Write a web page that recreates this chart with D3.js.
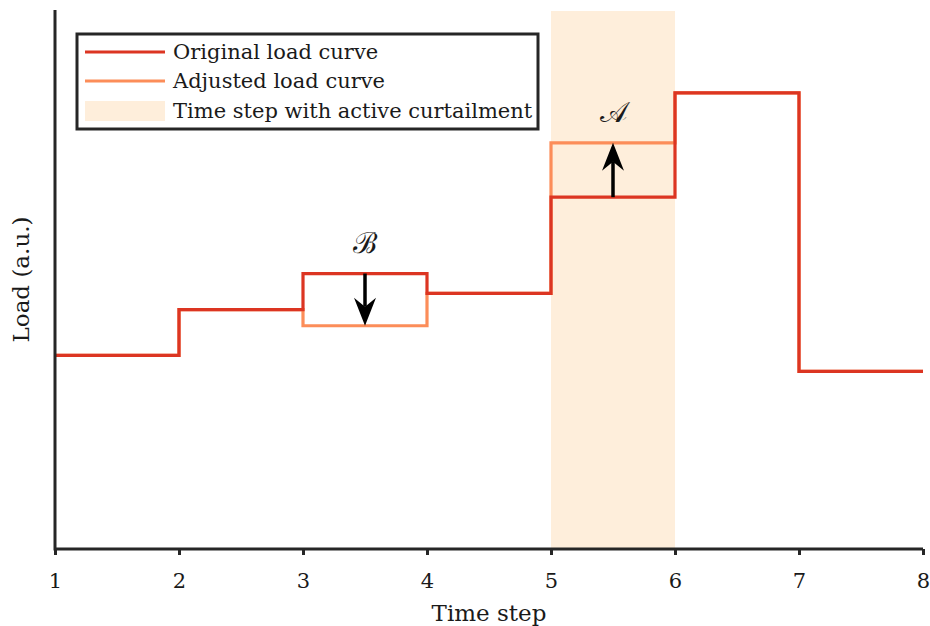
<!DOCTYPE html>
<html>
<head>
<meta charset="utf-8">
<script src="https://cdn.jsdelivr.net/npm/d3@7"></script>
<style>
  html, body { margin: 0; padding: 0; background: #ffffff; }
  svg { display: block; }
  text { font-family: "DejaVu Serif", "Liberation Serif", serif; fill: #1a1a1a; }
</style>
</head>
<body>
<script>
// Time steps along the x axis and the tick labels shown
const timeSteps = [1, 2, 3, 4, 5, 6, 7, 8];
const tickLabels = ["1", "2", "3", "4", "5", "6", "7", "8"];

// Load held constant over each step [t, t+1) (arbitrary units)
const originalLoad = [3.6, 4.45, 5.12, 4.75, 6.54, 8.48, 3.3];
const adjustedLoad = [3.6, 4.45, 4.15, 4.75, 7.55, 8.48, 3.3];

// Step whose interval has active curtailment (shaded)
const curtailedSteps = [5];

// Annotated shifts: step start, label
const shiftSteps = [3, 5];
const shiftLabels = ["\u212C", "\uD835\uDC9C"];

const legendLabels = ["Original load curve", "Adjusted load curve", "Time step with active curtailment"];

const colOriginal = "#dc3522";
const colAdjusted = "#fc8d59";
const colBand = "#feeedb";
const colAxis = "#262626";

const W = 930, H = 626;
const margin = { left: 55, right: 7, top: 10, bottom: 77 };

const svg = d3.select("body").append("svg").attr("width", W).attr("height", H);

const x = d3.scaleLinear().domain([1, 8]).range([margin.left, W - margin.right]);
const y = d3.scaleLinear().domain([0, 10]).range([H - margin.bottom, margin.top + 1]);

// shaded curtailment interval(s)
svg.selectAll("rect.band").data(curtailedSteps).enter().append("rect")
  .attr("class", "band")
  .attr("x", d => x(d))
  .attr("width", d => x(d + 1) - x(d))
  .attr("y", y(10))
  .attr("height", y(0) - y(10))
  .attr("fill", colBand);

// step curves: each value lasts one step; repeat the last value to close at t = 8
const stepPoints = vals => vals.map((v, i) => [timeSteps[i], v]).concat([[timeSteps[vals.length], vals[vals.length - 1]]]);
const line = d3.line().x(d => x(d[0])).y(d => y(d[1])).curve(d3.curveStepAfter);

svg.append("path").datum(stepPoints(adjustedLoad))
  .attr("d", line).attr("fill", "none")
  .attr("stroke", colAdjusted).attr("stroke-width", 3.2).attr("stroke-linejoin", "miter");

svg.append("path").datum(stepPoints(originalLoad))
  .attr("d", line).attr("fill", "none")
  .attr("stroke", colOriginal).attr("stroke-width", 3.2).attr("stroke-linejoin", "miter");

// arrows showing the shift from original to adjusted load
const headLen = 28, headHalf = 11, notch = 9;
shiftSteps.forEach((s, k) => {
  const i = timeSteps.indexOf(s);
  const cx = x(s + 0.5);
  const y0 = y(originalLoad[i]);
  const y1 = y(adjustedLoad[i]);
  const dir = y1 > y0 ? 1 : -1;
  svg.append("line")
    .attr("x1", cx).attr("x2", cx)
    .attr("y1", y0).attr("y2", y1 - dir * (headLen - notch))
    .attr("stroke", "#000").attr("stroke-width", 3.5);
  const p = [
    [cx, y1],
    [cx - headHalf, y1 - dir * headLen],
    [cx, y1 - dir * (headLen - notch)],
    [cx + headHalf, y1 - dir * headLen]
  ];
  svg.append("path").attr("d", "M" + p.join("L") + "Z").attr("fill", "#000");
  const top = Math.min(y0, y1);
  svg.append("text")
    .attr("x", cx).attr("y", top - 21)
    .attr("text-anchor", "middle")
    .style("font-size", "29px")
    .text(shiftLabels[k]);
});

// axes
const xAxis = d3.axisBottom(x).tickValues(timeSteps).tickFormat((d, i) => tickLabels[i]).tickSize(6).tickPadding(18);
const gx = svg.append("g").attr("transform", `translate(0,${y(0)})`).call(xAxis);
gx.select(".domain").attr("stroke", colAxis).attr("stroke-width", 3).attr("d", `M${x(1)},0H${x(8)}`);
gx.selectAll(".tick line").attr("stroke", colAxis).attr("stroke-width", 3);
gx.selectAll(".tick text").style("font-family", "DejaVu Serif").style("font-size", "21px").attr("fill", "#1a1a1a");

svg.append("line")
  .attr("x1", x(1)).attr("x2", x(1))
  .attr("y1", margin.top).attr("y2", y(0) + 1.5)
  .attr("stroke", colAxis).attr("stroke-width", 3);

svg.append("text")
  .attr("x", (x(1) + x(8)) / 2).attr("y", 621)
  .attr("text-anchor", "middle").style("font-size", "23px")
  .text("Time step");

svg.append("text")
  .attr("transform", `translate(29,${(y(0) + margin.top) / 2}) rotate(-90)`)
  .attr("text-anchor", "middle").style("font-size", "23px")
  .text("Load (a.u.)");

// legend
const lg = svg.append("g");
lg.append("rect")
  .attr("x", 77).attr("y", 34).attr("width", 461).attr("height", 95)
  .attr("fill", "#fff").attr("stroke", colAxis).attr("stroke-width", 3);
const rowY = [52, 81, 111];
lg.append("line").attr("x1", 85).attr("x2", 165).attr("y1", rowY[0]).attr("y2", rowY[0])
  .attr("stroke", colOriginal).attr("stroke-width", 3.2);
lg.append("line").attr("x1", 85).attr("x2", 165).attr("y1", rowY[1]).attr("y2", rowY[1])
  .attr("stroke", colAdjusted).attr("stroke-width", 3.2);
lg.append("rect").attr("x", 85).attr("y", rowY[2] - 10).attr("width", 80).attr("height", 20)
  .attr("fill", colBand);
legendLabels.forEach((t, i) => {
  lg.append("text").attr("x", 173).attr("y", rowY[i]).attr("dy", "0.35em")
    .style("font-size", "21px").text(t);
});
</script>
</body>
</html>
